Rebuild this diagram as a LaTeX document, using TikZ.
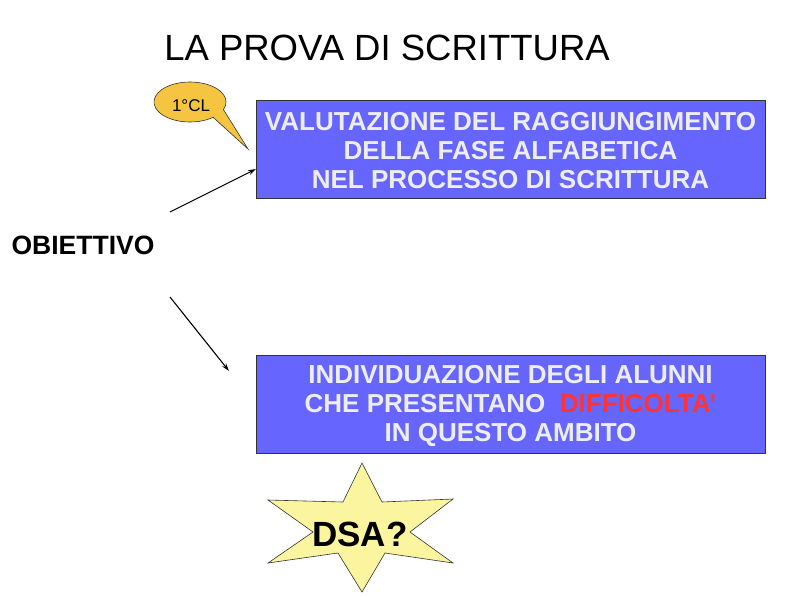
\documentclass[tikz,border=0pt]{standalone}
\usepackage{fontspec}
\setmainfont{Liberation Sans}
\usetikzlibrary{arrows.meta}
\definecolor{boxblue}{HTML}{6666FF}
\definecolor{boxtext}{HTML}{EEEEF2}
\definecolor{redtext}{HTML}{FF3333}
\definecolor{bubble}{HTML}{F5C542}
\definecolor{starfill}{HTML}{FAF59E}
\begin{document}
\begin{tikzpicture}[x=1pt,y=-1pt,
  bluebox/.style={draw=black!80, line width=0.8pt, fill=boxblue, minimum width=509pt, minimum height=98pt, inner sep=0pt},
  boxlabel/.style={text=boxtext, align=center, inner sep=0pt, font=\fontsize{26}{29}\selectfont\bfseries},
  conn/.style={-{Stealth[length=8pt,width=5pt]}, line width=1.1pt}]
\useasboundingbox (0,0) rectangle (794,595);
\node (title) at (387,48) {\fontsize{36.5}{40}\selectfont LA PROVA DI SCRITTURA};
% bubble
\path[draw=black!80, line width=0.6pt, fill=bubble] (190,102) ++(50:36 and 20) arc[start angle=50, end angle=382, x radius=36, y radius=20] -- (248,149) -- cycle;
\node (cl) at (191,106) {\fontsize{17}{19}\selectfont 1°CL};
\node[bluebox] (b1) at (510.5,149) {};
\node[boxlabel] (t1) at (510.5,151) {VALUTAZIONE DEL RAGGIUNGIMENTO\\DELLA FASE ALFABETICA\\NEL PROCESSO DI SCRITTURA};
\node[bluebox] (b2) at (510.5,404) {};
\node[boxlabel] (t2) at (510.5,406) {INDIVIDUAZIONE DEGLI ALUNNI\\CHE PRESENTANO \ \textcolor{redtext}{DIFFICOLTA'}\\IN QUESTO AMBITO};
\node (obj) at (83,245) {\fontsize{26.5}{30}\selectfont\bfseries OBIETTIVO};
\coordinate (a1s) at (170,212);
\coordinate (a1e) at (256,169);
\coordinate (a2s) at (170,297);
\coordinate (a2e) at (229,371);
\draw[conn] (a1s) -- (a1e);
\draw[conn] (a2s) -- (a2e);
% star
\path[draw=black!80, line width=0.6pt, fill=starfill]
  (362,463) -- (382,502) -- (453,499) -- (410,532) -- (453,563) -- (385,553)
  -- (362,592) -- (338,553) -- (268,563) -- (313,532) -- (268,500) -- (343,502) -- cycle;
\node (dsa) at (360,534) {\fontsize{35}{38}\selectfont\bfseries DSA?};
\end{tikzpicture}
\end{document}
